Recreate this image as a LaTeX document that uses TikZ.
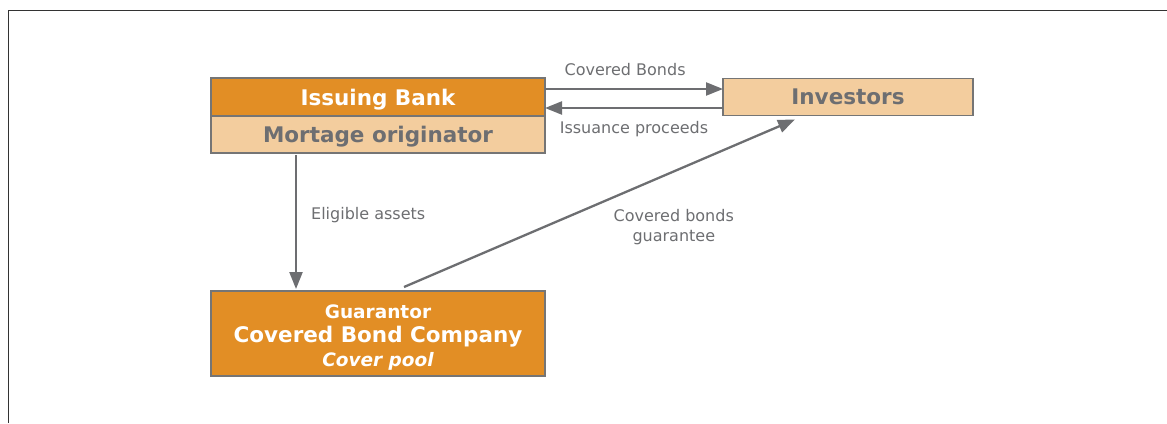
\documentclass[tikz,border=0pt]{standalone}
\usepackage{fontspec}
\setmainfont{DejaVu Sans}
\usetikzlibrary{arrows.meta,positioning}
\definecolor{bondorange}{HTML}{E28E25}
\definecolor{bondsand}{HTML}{F3CD9E}
\definecolor{bondgray}{HTML}{6D6E71}
\definecolor{bondline}{HTML}{757575}

\tikzset{
  party/.style={draw=bondline, line width=1.3pt, outer sep=0pt, inner sep=0pt, text depth=0pt,
    font=\bfseries\fontsize{21.5}{24}\selectfont},
  dark/.style={party, fill=bondorange, text=white},
  light/.style={party, fill=bondsand, text=bondgray},
  flow/.style={-{Triangle[length=17pt,width=13pt]}, draw=bondgray, line width=2.3pt},
  tag/.style={text=bondgray, inner sep=0pt, font=\fontsize{16}{20}\selectfont}
}

\begin{document}
\begin{tikzpicture}[x=1pt, y=-1pt, node distance=178pt]
    \useasboundingbox (0,0) rectangle (1167,423);
    \draw [black!80, line width=1pt] (8,423) -- (8,10) -- (1167,10);

    \node [dark, minimum width=334pt, minimum height=38pt] (bank) at (378,97) {Issuing Bank};
    \node [light, minimum width=334pt, minimum height=37pt] (originator) [below=0pt of bank] {Mortage originator};
    \node [light, minimum width=250pt, minimum height=37pt] (investors) [right=of bank] {Investors};
    \node [dark, minimum width=334pt, minimum height=85pt, align=center,
      font=\bfseries\fontsize{18.5}{24}\selectfont] (guarantor) [below=138pt of originator]
      {\rule{0pt}{18pt}Guarantor\\{\fontsize{21.5}{24}\selectfont Covered Bond Company}\\\itshape Cover pool};

    \path
    ([yshift=8pt]bank.east) edge [flow] node[tag, above=12pt, pos=0.45] {Covered Bonds} ([yshift=8pt]bank.east -| investors.west)
    ([yshift=-11pt]investors.west) edge [flow] node[tag, below=12pt, pos=0.5] {Issuance proceeds} ([yshift=-11pt]investors.west -| bank.east)
    ([xshift=85pt]originator.south west) edge [flow, shorten <=2pt, shorten >=2pt]
      node[tag, right=14pt, pos=0.45] {Eligible assets} ([xshift=85pt]guarantor.north west)
    ([xshift=26pt, yshift=4pt]guarantor.north) edge [flow]
      node[tag, below=37pt, pos=0.69, align=center] {Covered bonds\\guarantee} ([xshift=-53pt, yshift=-4pt]investors.south)
    ;
\end{tikzpicture}
\end{document}
